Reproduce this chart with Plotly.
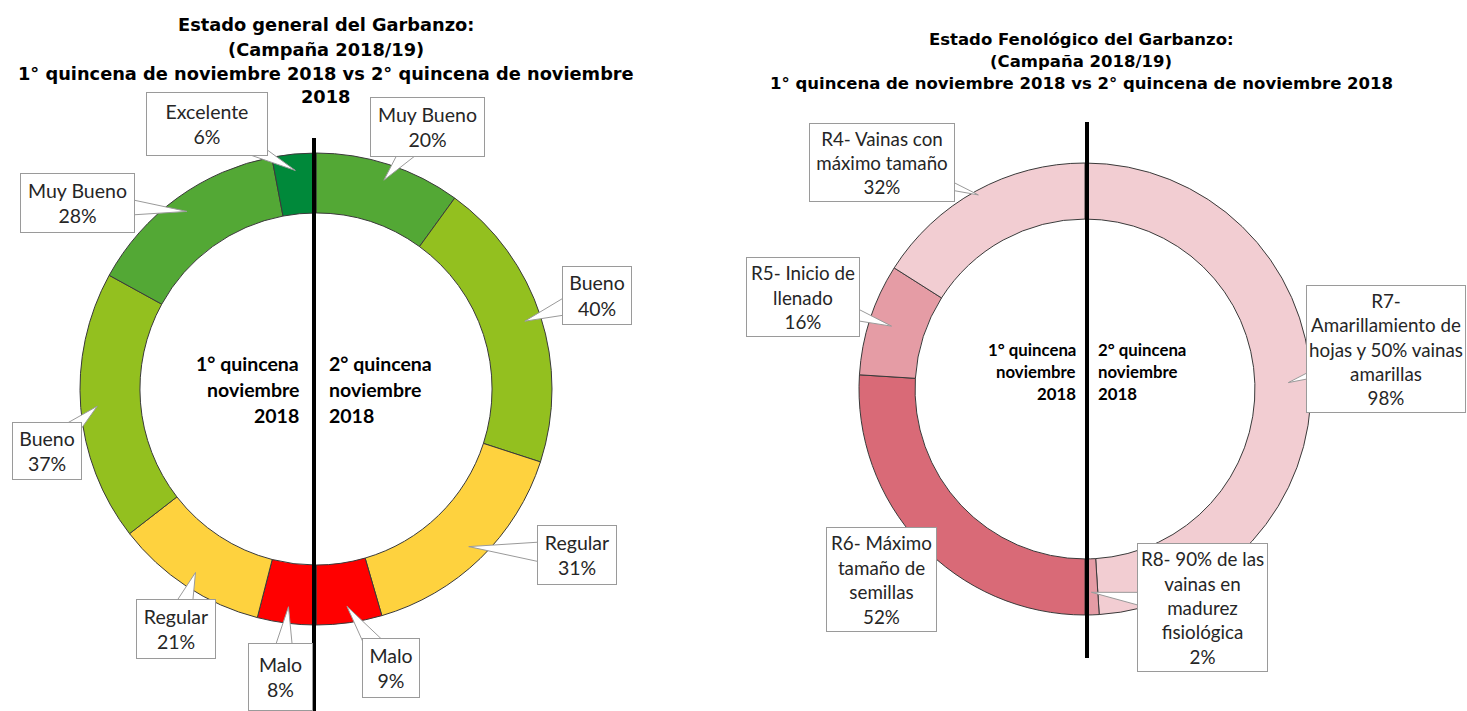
import math
import plotly.graph_objects as go

# ---------------- DATA ----------------
estado_q1_cats = ["Excelente", "Muy Bueno", "Bueno", "Regular", "Malo"]
estado_q1_vals = [6, 28, 37, 21, 8]
estado_q2_cats = ["Muy Bueno", "Bueno", "Regular", "Malo"]
estado_q2_vals = [20, 40, 31, 9]

fen_q1_cats = ["R4- Vainas con máximo tamaño", "R5- Inicio de llenado", "R6- Máximo tamaño de semillas"]
fen_q1_vals = [32, 16, 52]
fen_q2_cats = ["R7- Amarillamiento de hojas y 50% vainas amarillas", "R8- 90% de las vainas en madurez fisiológica"]
fen_q2_vals = [98, 2]

title_estado_lines = ["Estado general del Garbanzo:", "(Campaña 2018/19)",
                      "1° quincena de noviembre 2018 vs 2° quincena de noviembre", "2018"]
title_fen_lines = ["Estado Fenológico del Garbanzo:", "(Campaña 2018/19)",
                   "1° quincena de noviembre 2018 vs 2° quincena de noviembre 2018"]
center_q1_lines = ["1° quincena", "noviembre", "2018"]
center_q2_lines = ["2° quincena", "noviembre", "2018"]

# ---------------- STYLE ----------------
W, H = 1467, 711
estado_colors = {"Excelente": "#00893A", "Muy Bueno": "#53A835", "Bueno": "#93C01F",
                 "Regular": "#FED23E", "Malo": "#FF0000"}
fen_colors = {fen_q1_cats[0]: "#F2CDD2", fen_q1_cats[1]: "#E59CA5", fen_q1_cats[2]: "#D96A77",
              fen_q2_cats[0]: "#F2CDD2", fen_q2_cats[1]: "#E59CA5"}
fen_display = {fen_q1_cats[0]: "R4- Vainas con<br>máximo tamaño",
               fen_q1_cats[1]: "R5- Inicio de<br>llenado",
               fen_q1_cats[2]: "R6- Máximo<br>tamaño de<br>semillas",
               fen_q2_cats[0]: "R7-<br>Amarillamiento de<br>hojas y 50% vainas<br>amarillas",
               fen_q2_cats[1]: "R8- 90% de las<br>vainas en<br>madurez<br>fisiológica"}

LABEL_FONT = "Lato, Carlito, sans-serif"
TITLE_FONT = "DejaVu Sans, sans-serif"
BOX_LINE = "#9a9a9a"

# chart geometry (pixels)
geo_estado = dict(cx=316, cy=389, R=236, hole=0.746, line_dx=-2, line_top=138, line_bot=711,
                  center_size=19.5, center_gap=13, center_dy=[-26, 0, 26], label_size=19.5)
geo_fen = dict(cx=1085, cy=389, R=226, hole=0.752, line_dx=2, line_top=122, line_bot=658,
               center_size=16.8, center_gap=9, center_dy=[-40, -18, 4], label_size=18.8)

# callouts, ordered as pie slices: (tip radius factor, box offset from tip (dx, dy), box size (w, h))
estado_box = [  # q2 clockwise (Muy Bueno, Bueno, Regular, Malo) then q1 reversed (Malo, Regular, Bueno, Muy Bueno, Excelente)
    (0.93, (44, -53), (115, 60)), (0.93, (72, -26), (70, 59)), (0.93, (108, 8), (80, 60)),
    (0.93, (44, 62), (58, 60)), (0.93, (-8, 70), (65, 68)), (0.93, (-20, 57), (80, 60)),
    (0.93, (-50, 45), (70, 58)), (0.93, (-109, -8), (115, 60)), (0.93, (-88, -46), (122, 64)),
]
fen_box = [  # R7, R8, then R6, R5, R4
    (0.9, (98, -34), (160, 128)), (0.9, (111, 15), (131, 129)),
    (0.9, (-55, 51), (111, 105)), (0.9, (-89, -29), (114, 80)), (0.98, (-96, -32), (146, 79)),
]


def px(x, y):
    return x / W, 1 - y / H


fig = go.Figure()
shapes = []
annotations = []


def text_ann(x, y, text, size, family, xanchor="center", bold=False):
    ax, ay = px(x, y)
    annotations.append(dict(x=ax, y=ay, xref="paper", yref="paper", xanchor=xanchor, yanchor="middle",
                            showarrow=False, text=f"<b>{text}</b>" if bold else text,
                            font=dict(family=family, size=size, color="black")))


def add_donut(labels, values, colors, texts, geo, boxes):
    cx, cy, R = geo["cx"], geo["cy"], geo["R"]
    x0, y1 = px(cx - R, cy - R)
    x1, y0 = px(cx + R, cy + R)
    fig.add_trace(go.Pie(
        labels=[f"{i}" for i in range(len(values))], values=values,
        hovertext=labels, hoverinfo="text+value",
        marker=dict(colors=colors, line=dict(color="#3a3a3a", width=1)),
        hole=geo["hole"], sort=False, direction="clockwise", rotation=0,
        textinfo="none", showlegend=False,
        domain=dict(x=[x0, x1], y=[y0, y1]),
    ))
    # vertical divider line
    lx = cx + geo["line_dx"]
    a, b = px(lx, geo["line_top"]), px(lx, geo["line_bot"])
    shapes.append(dict(type="line", xref="paper", yref="paper", x0=a[0], x1=b[0], y0=a[1], y1=b[1],
                       line=dict(color="black", width=4), layer="above"))
    total = sum(values)
    cum = 0
    for i, v in enumerate(values):
        theta = math.radians((cum + v / 2) / total * 360)
        cum += v
        tipf, (dx, dy), (bw, bh) = boxes[i]
        r = tipf * R
        tx, ty = cx + r * math.sin(theta), cy - r * math.cos(theta)
        bx, by = tx + dx, ty + dy
        L = math.hypot(tx - bx, ty - by) or 1
        nx, ny = -(ty - by) / L, (tx - bx) / L
        hw = 15
        p1 = px(bx + nx * hw, by + ny * hw)
        p2 = px(bx - nx * hw, by - ny * hw)
        pt = px(tx, ty)
        shapes.append(dict(type="path", xref="paper", yref="paper",
                           path=f"M {p1[0]} {p1[1]} L {pt[0]} {pt[1]} L {p2[0]} {p2[1]} Z",
                           fillcolor="white", line=dict(color=BOX_LINE, width=1), layer="above"))
        ax, ay = px(bx, by)
        annotations.append(dict(x=ax, y=ay, xref="paper", yref="paper", showarrow=False,
                                xanchor="center", yanchor="middle",
                                text=f"{texts[i]}<br>{v}%", width=bw - 2, height=bh - 2,
                                bgcolor="white", bordercolor=BOX_LINE, borderwidth=1, borderpad=0,
                                align="center", valign="middle",
                                font=dict(family=LABEL_FONT, size=geo["label_size"], color="#262626")))
    # center texts
    for k in range(3):
        yy = cy + geo["center_dy"][k]
        text_ann(lx - geo["center_gap"], yy, center_q1_lines[k], geo["center_size"], LABEL_FONT, "right", True)
        text_ann(lx + geo["center_gap"], yy, center_q2_lines[k], geo["center_size"], LABEL_FONT, "left", True)


# ----- Estado general -----
est_labels = estado_q2_cats + estado_q1_cats[::-1]
est_values = estado_q2_vals + estado_q1_vals[::-1]
add_donut(est_labels, est_values, [estado_colors[c] for c in est_labels], est_labels,
          geo_estado, estado_box)

# ----- Fenológico -----
fen_labels = fen_q2_cats + fen_q1_cats[::-1]
fen_values = fen_q2_vals + fen_q1_vals[::-1]
add_donut(fen_labels, fen_values, [fen_colors[c] for c in fen_labels], [fen_display[c] for c in fen_labels],
          geo_fen, fen_box)

# titles
for k, line in enumerate(title_estado_lines):
    text_ann(326, 25 + 24 * k, line, 17.8, TITLE_FONT, bold=True)
for k, line in enumerate(title_fen_lines):
    text_ann(1081, 39 + 22 * k, line, 16.5, TITLE_FONT, bold=True)

fig.update_layout(width=W, height=H, margin=dict(l=0, r=0, t=0, b=0),
                  paper_bgcolor="white", plot_bgcolor="white",
                  shapes=shapes, annotations=annotations)

fig.write_html("out.html", config={"displayModeBar": False},
               post_script="document.body.style.margin='0px';document.body.style.overflow='hidden';")
